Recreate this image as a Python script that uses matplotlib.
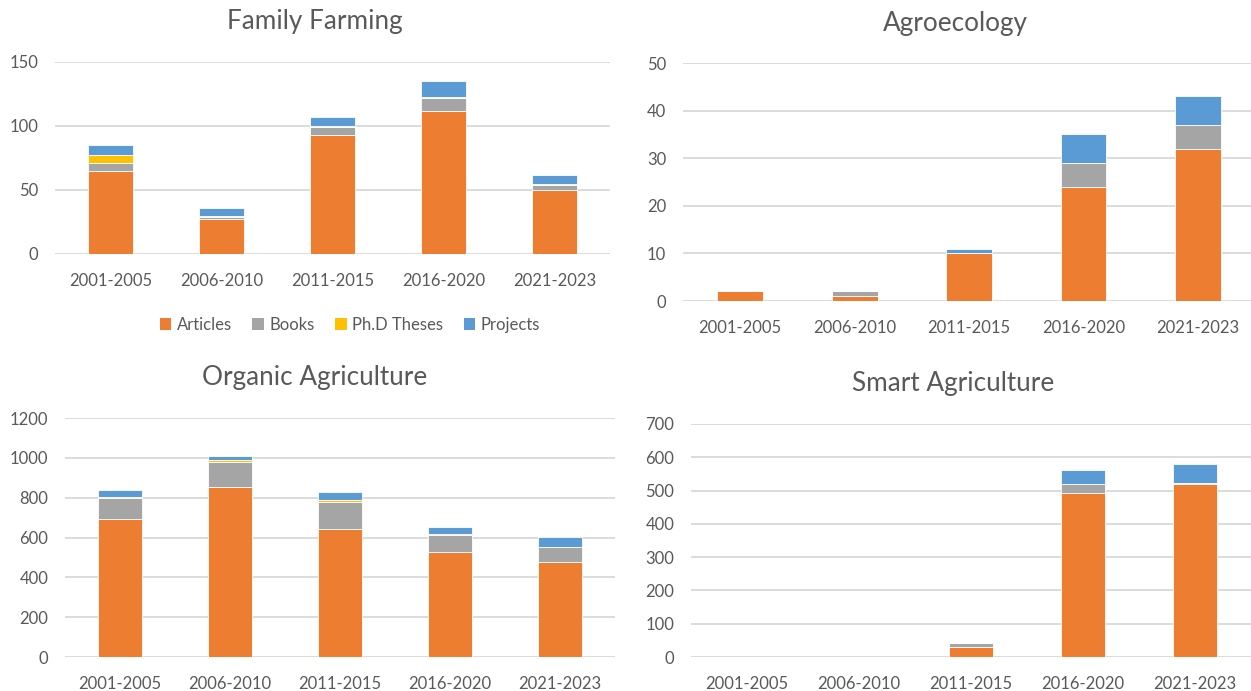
import matplotlib
matplotlib.use("Agg")
import matplotlib.pyplot as plt
import numpy as np
from matplotlib.patches import Patch

periods = ["2001-2005", "2006-2010", "2011-2015", "2016-2020", "2021-2023"]
series_names = ["Articles", "Books", "Ph.D Theses", "Projects"]

ff_articles = [65, 27, 93, 112, 50]
ff_books = [6, 2, 6, 10, 4]
ff_phd = [6, 1, 1, 1, 1]
ff_projects = [8, 6, 7, 12, 7]

ae_articles = [2, 1, 10, 24, 32]
ae_books = [0, 1, 0, 5, 5]
ae_phd = [0, 0, 0, 0, 0]
ae_projects = [0, 0, 1, 6, 6]

oa_articles = [693, 855, 643, 527, 477]
oa_books = [104, 126, 135, 86, 74]
oa_phd = [8, 10, 12, 3, 2]
oa_projects = [35, 20, 40, 37, 50]

sa_articles = [0, 0, 30, 492, 519]
sa_books = [0, 0, 11, 29, 5]
sa_phd = [0, 0, 0, 0, 0]
sa_projects = [0, 0, 2, 40, 56]

colors = ["#ED7D31", "#A5A5A5", "#FFC000", "#5B9BD5"]
TXT = "#595959"
GRID = "#D9D9D9"
FONT = ["Lato", "DejaVu Sans"]
plt.rcParams["font.family"] = FONT

W, H = 1251, 691
fig = plt.figure(figsize=(W / 100, H / 100), dpi=100)


def make_ax(x0, x1, ytop, ybot):
    return fig.add_axes([x0 / W, 1 - ybot / H, (x1 - x0) / W, (ybot - ytop) / H])


panels = [
    dict(title="Family Farming", data=[ff_articles, ff_books, ff_phd, ff_projects],
         box=(55, 610, 62, 254), ymax=150, step=50, xmax=4.5, title_xy=(315, 21)),
    dict(title="Agroecology", data=[ae_articles, ae_books, ae_phd, ae_projects],
         box=(683, 1251, 63, 301), ymax=50, step=10, xmax=4.463, title_xy=(955, 23)),
    dict(title="Organic Agriculture", data=[oa_articles, oa_books, oa_phd, oa_projects],
         box=(65, 615, 418, 657), ymax=1200, step=200, xmax=4.5, title_xy=(315, 378)),
    dict(title="Smart Agriculture", data=[sa_articles, sa_books, sa_phd, sa_projects],
         box=(691, 1251, 424, 657), ymax=700, step=100, xmax=4.5, title_xy=(953, 383)),
]

for p in panels:
    x0, x1, yt, yb = p["box"]
    ax = make_ax(x0, x1, yt, yb)
    x = np.arange(len(periods))
    bottom = np.zeros(len(periods))
    for vals, c in zip(p["data"], colors):
        v = np.array(vals, dtype=float)
        ax.bar(x, v, width=0.4, bottom=bottom, color=c, edgecolor="white",
               linewidth=0.6, zorder=3)
        bottom += v
    ax.set_xlim(-0.5, p["xmax"])
    ax.set_ylim(0, p["ymax"])
    ax.set_yticks(np.arange(0, p["ymax"] + 1, p["step"]))
    ax.set_xticks(x)
    ax.set_xticklabels(periods)
    ax.grid(axis="y", color=GRID, linewidth=1.3, zorder=0)
    for s in ["top", "right", "left", "bottom"]:
        ax.spines[s].set_visible(False)
    ax.tick_params(axis="both", length=0, colors=TXT, labelsize=12)
    ax.tick_params(axis="y", pad=12)
    ax.tick_params(axis="x", pad=13.5)
    ax.set_axisbelow(True)
    tx, ty = p["title_xy"]
    fig.text(tx / W, 1 - ty / H, p["title"], ha="center", va="center",
             fontsize=18.8, color=TXT)

handles = [Patch(facecolor=c, edgecolor="none") for c in colors]
fig.legend(handles, series_names, loc="center", bbox_to_anchor=(350 / W, 1 - 325 / H),
           ncol=4, frameon=False, fontsize=12, labelcolor=TXT, handlelength=0.7,
           handleheight=0.7, handletextpad=0.35, columnspacing=1.2)

fig.savefig("out.png", dpi=100, facecolor="white")
